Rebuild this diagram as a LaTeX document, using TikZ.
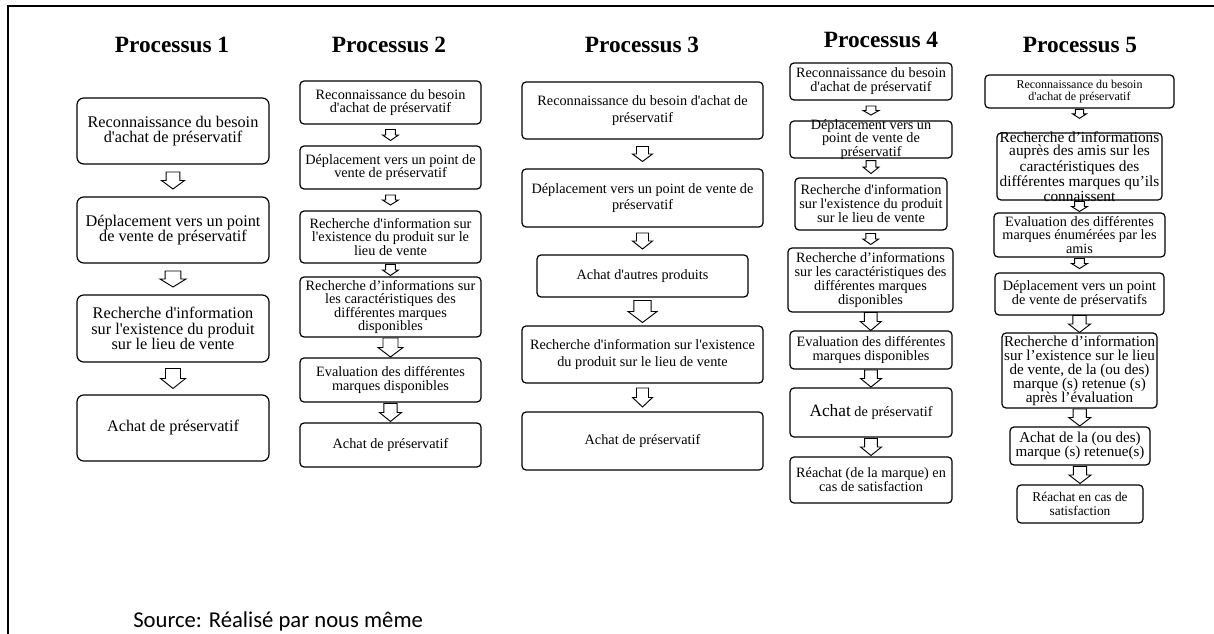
\documentclass[tikz,border=0pt]{standalone}
\usepackage{fontspec}
\setmainfont{Liberation Serif}[Ligatures=TeXOff]
\newfontfamily\srcfont{Carlito}
\usetikzlibrary{calc}

\begin{document}
\begin{tikzpicture}[x=0.75pt,y=-0.75pt,
        box/.style={draw,line width=0.9pt,rounded corners=3pt,align=center,inner sep=1pt},
        sz/.style 2 args={minimum width=#1*0.75pt,minimum height=#2*0.75pt},
        colA/.style={box,rounded corners=5pt,font=\fontsize{12.2}{11.7}\selectfont},
        colB/.style={box,font=\fontsize{10.7}{10}\selectfont},
        colC/.style={box,font=\fontsize{10.7}{12.5}\selectfont},
        colD/.style={box,font=\fontsize{10.7}{10.5}\selectfont},
        colE/.style={box,font=\fontsize{10.7}{10}\selectfont},
        txt/.style={align=center,inner sep=0pt},
        title/.style={font=\fontsize{17.5}{20}\selectfont\bfseries},
        harrow/.style={draw,line width=0.7pt,fill=white,line join=miter},
        pics/downarrow/.style 2 args={code={
            \draw[harrow] (-0.6*#1,-#2/2) -- (0.6*#1,-#2/2) -- (0.6*#1,0) -- (#1,0)
                -- (0,#2/2) -- (-#1,0) -- (-0.6*#1,0) -- cycle;}}
      ]
        \useasboundingbox (0,0) rectangle (1214,634);
        \draw[line width=0.9pt] (8,634) -- (8,6) -- (1214,6);

        % Processus 1
        \node[title] (t1) at (172,45) {Processus 1};
        \node[colA,sz={192}{66}] (p1a) at (173,131) {Reconnaissance du besoin\\d'achat de préservatif};
        \node[colA,sz={192}{66}] (p1b) at (173,230) {Déplacement vers un point\\de vente de préservatif};
        \node[colA,sz={192}{67}] (p1c) at (173,328.5) {Recherche d'information\\sur l'existence du produit\\sur le lieu de vente};
        \node[colA,sz={192}{66}] (p1d) at (173,428) {Achat de préservatif};

        % Processus 2
        \node[title] (t2) at (389,45) {Processus 2};
        \node[colB,sz={181}{43}] (p2a) at (390.5,102.5) {Reconnaissance du besoin\\d'achat de préservatif};
        \node[colB,sz={181}{43}] (p2b) at (390.5,167.5) {Déplacement vers un point de\\vente de préservatif};
        \node[colB,sz={181}{52}] (p2c) at (390.5,237) {Recherche d'information sur\\l'existence du produit sur le\\lieu de vente};
        \node[colB,sz={181}{60}] (p2d) at (390.5,307) {Recherche d’informations sur\\les caractéristiques des\\différentes marques\\disponibles};
        \node[colB,sz={181}{44}] (p2e) at (390.5,380) {Evaluation des différentes\\marques disponibles};
        \node[colB,sz={181}{44}] (p2f) at (390.5,445) {Achat de préservatif};

        % Processus 3
        \node[title] (t3) at (642,45) {Processus 3};
        \node[colC,sz={241}{57}] (p3a) at (642.5,110.5) {Reconnaissance du besoin d'achat de\\préservatif};
        \node[colC,sz={241}{58}] (p3b) at (642.5,198) {Déplacement vers un point de vente de\\préservatif};
        \node[colC,sz={211}{42}] (p3c) at (642.5,276) {Achat d'autres produits};
        \node[colC,sz={241}{57}] (p3d) at (642.5,354.5) {Recherche d'information sur l'existence\\du produit sur le lieu de vente};
        \node[colC,sz={241}{58}] (p3e) at (642.5,441) {Achat de préservatif};

        % Processus 4
        \node[title] (t4) at (881,40) {Processus 4};
        \node[colD,sz={162}{37}] (p4a) at (871,81.5) {Reconnaissance du besoin\\d'achat de préservatif};
        \node[colD,sz={162}{37}] (p4b) at (871,139.5) {};
        \node[txt,font=\fontsize{10.7}{10.2}\selectfont] (p4bt) at (p4b) {Déplacement vers un\\point de vente de\\préservatif};
        \node[colD,sz={152}{52}] (p4c) at (871,204) {Recherche d'information\\sur l'existence du produit\\sur le lieu de vente};
        \node[colD,sz={165}{64}] (p4d) at (870.5,280) {Recherche d’informations\\sur les caractéristiques des\\différentes marques\\disponibles};
        \node[colD,sz={162}{38}] (p4e) at (871,350) {Evaluation des différentes\\marques disponibles};
        \node[colD,sz={162}{49}] (p4f) at (871,412.5) {{\fontsize{13}{13}\selectfont Achat} de préservatif};
        \node[colD,sz={162}{46}] (p4g) at (871,480) {Réachat (de la marque) en\\cas de satisfaction};

        % Processus 5
        \node[title] (t5) at (1080,45) {Processus 5};
        \node[colE,sz={189}{33},font=\fontsize{9}{9.5}\selectfont] (p5a) at (1079.5,91.5) {Reconnaissance du besoin\\d'achat de préservatif};
        \node[colE,sz={165}{67}] (p5b) at (1079.5,166.5) {};
        \node[txt,font=\fontsize{11.5}{10}\selectfont] (p5bt) at (p5b) {Recherche d’informations\\auprès des amis sur les\\caractéristiques des\\différentes marques qu’ils\\connaissent};
        \node[colE,sz={171}{44}] (p5c) at (1079.5,235) {Evaluation des différentes\\marques énumérées par les\\amis};
        \node[colE,sz={169}{42}] (p5d) at (1079.5,294) {Déplacement vers un point\\de vente de préservatifs};
        \node[colE,sz={155}{75},font=\fontsize{11.3}{10.5}\selectfont] (p5e) at (1079.5,370.5) {Recherche d’information\\sur l’existence sur le lieu\\de vente, de la (ou des)\\marque (s) retenue (s)\\après l’évaluation};
        \node[colE,sz={140}{38},font=\fontsize{11.3}{10.5}\selectfont] (p5f) at (1080,446) {Achat de la (ou des)\\marque (s) retenue(s)};
        \node[colE,sz={126}{38},font=\fontsize{10}{10.5}\selectfont] (p5g) at (1080,504) {Réachat en cas de\\satisfaction};

        \foreach \a/\b/\f/\w/\l in {p1a/p1b/.5/11.5/17, p1b/p1c/.5/13/16, p1c/p1d/.5/12.5/20,
                p2a/p2b/.5/8/11, p2b/p2c/.5/8/10, p2c/p2d/.5/8/11, p2d/p2e/.5/12.5/19, p2e/p2f/.5/11/18,
                p3a/p3b/.5/10/15, p3b/p3c/.5/10/16, p3c/p3d/.5/14.5/22, p3d/p3e/.5/10/19,
                p4a/p4b/.5/8/9, p4b/p4c/.45/8/13, p4c/p4d/.5/8/11, p4d/p4e/.5/10.5/18, p4e/p4f/.5/10.5/17, p4f/p4g/.5/10.5/17,
                p5a/p5b/.22/7/9, p5b/p5c/.5/8/10, p5c/p5d/.4/8/10, p5d/p5e/.5/11/17, p5e/p5f/.5/11/17, p5f/p5g/.5/11/17}
            \pic at ($(\a.south)!\f!(\b.north)$) {downarrow={\w}{\l}};

        \node[font=\srcfont\fontsize{17}{20}\selectfont,anchor=base west,inner sep=0pt] (src) at (133,627) {Source: Réalisé par nous même};
      \end{tikzpicture}
\end{document}
